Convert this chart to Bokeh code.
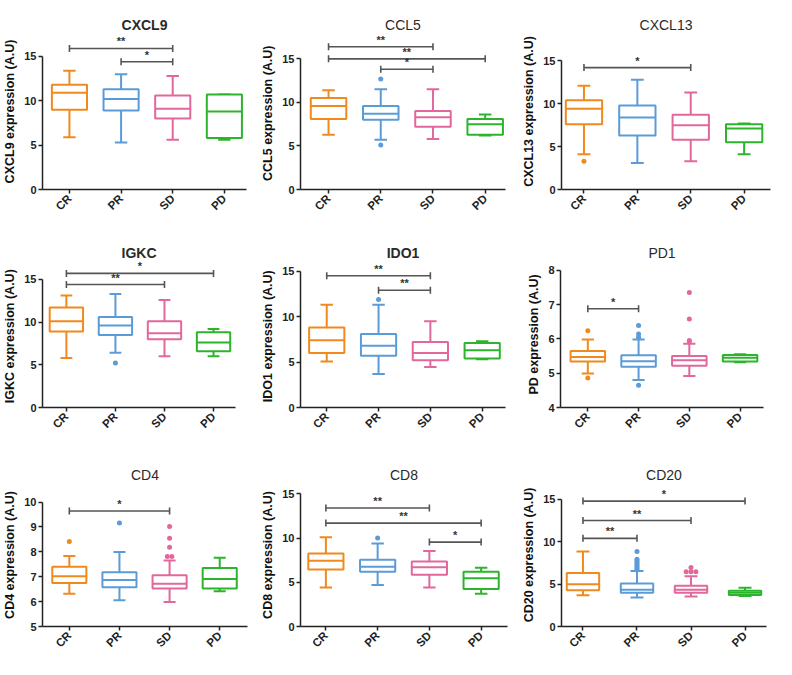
import math
from bokeh.plotting import figure
from bokeh.layouts import column, row
from bokeh.models import FixedTicker, Range1d, ColumnDataSource
from bokeh.core.properties import value
from bokeh.embed import file_html
from bokeh.resources import INLINE

GROUPS = ["CR", "PR", "SD", "PD"]
COLORS = ["#F08A1E", "#5B9BD8", "#E2679C", "#2DB42D"]

# ---- data: whisker low, Q1, median, Q3, whisker high per group ----
cxcl9_low = [5.9, 5.3, 5.6, 5.6]
cxcl9_q1 = [9.0, 8.9, 8.0, 5.8]
cxcl9_med = [10.9, 10.2, 9.1, 8.8]
cxcl9_q3 = [11.8, 11.3, 10.6, 10.7]
cxcl9_high = [13.4, 13.0, 12.8, 10.7]
cxcl9_out = []
cxcl9_sig = [("CR", "SD", 15.9, "**"), ("PR", "SD", 14.4, "*")]

ccl5_low = [6.3, 5.7, 5.8, 6.2]
ccl5_q1 = [8.1, 8.0, 7.2, 6.3]
ccl5_med = [9.6, 8.7, 8.3, 7.5]
ccl5_q3 = [10.5, 9.6, 9.0, 8.1]
ccl5_high = [11.4, 11.5, 11.5, 8.6]
ccl5_out = [("PR", 12.7), ("PR", 5.1)]
ccl5_sig = [("CR", "SD", 16.4, "**"), ("CR", "PD", 15.0, "**"), ("PR", "SD", 13.8, "*")]

cxcl13_low = [4.1, 3.1, 3.3, 4.1]
cxcl13_q1 = [7.6, 6.3, 5.8, 5.5]
cxcl13_med = [9.4, 8.4, 7.5, 7.1]
cxcl13_q3 = [10.4, 9.8, 8.7, 7.6]
cxcl13_high = [12.1, 12.8, 11.3, 7.7]
cxcl13_out = [("CR", 3.3)]
cxcl13_sig = [("CR", "SD", 14.2, "*")]

igkc_low = [5.8, 6.4, 6.0, 6.0]
igkc_q1 = [8.9, 8.5, 8.0, 6.6]
igkc_med = [10.1, 9.6, 8.7, 7.6]
igkc_q3 = [11.7, 10.6, 10.1, 8.8]
igkc_high = [13.1, 13.3, 12.6, 9.2]
igkc_out = [("PR", 5.2)]
igkc_sig = [("CR", "PD", 15.7, "*"), ("CR", "SD", 14.4, "**")]

ido1_low = [5.05, 3.7, 4.45, 5.3]
ido1_q1 = [6.0, 5.7, 5.2, 5.4]
ido1_med = [7.4, 6.8, 6.0, 6.3]
ido1_q3 = [8.8, 8.1, 7.2, 7.1]
ido1_high = [11.3, 11.3, 9.5, 7.3]
ido1_out = [("PR", 11.9)]
ido1_sig = [("CR", "SD", 14.5, "**"), ("PR", "SD", 12.9, "**")]

pd1_low = [4.99, 4.80, 4.92, 5.32]
pd1_q1 = [5.34, 5.19, 5.22, 5.34]
pd1_med = [5.47, 5.35, 5.38, 5.45]
pd1_q3 = [5.65, 5.52, 5.50, 5.53]
pd1_high = [5.98, 5.98, 5.86, 5.55]
pd1_out = [("CR", 6.24), ("CR", 4.86), ("PR", 6.39), ("PR", 6.14), ("PR", 6.05), ("PR", 4.65),
           ("SD", 7.35), ("SD", 6.58), ("SD", 5.95), ("SD", 5.93)]
pd1_sig = [("CR", "PR", 6.88, "*")]

cd4_low = [6.32, 6.05, 5.98, 6.42]
cd4_q1 = [6.75, 6.58, 6.53, 6.53]
cd4_med = [7.02, 6.87, 6.72, 6.91]
cd4_q3 = [7.40, 7.18, 7.06, 7.35]
cd4_high = [7.83, 7.99, 7.65, 7.76]
cd4_out = [("CR", 8.41), ("PR", 9.16), ("SD", 9.02), ("SD", 8.55), ("SD", 8.18), ("SD", 7.81), ("SD", 7.81)]
cd4_sig = [("CR", "SD", 9.64, "*")]

cd8_low = [4.4, 4.7, 4.4, 3.7]
cd8_q1 = [6.45, 6.2, 5.85, 4.25]
cd8_med = [7.45, 6.75, 6.7, 5.45]
cd8_q3 = [8.25, 7.55, 7.35, 6.2]
cd8_high = [10.1, 9.4, 8.55, 6.65]
cd8_out = [("PR", 10.0)]
cd8_sig = [("CR", "SD", 13.4, "**"), ("CR", "PD", 11.7, "**"), ("SD", "PD", 9.55, "*")]

cd20_low = [3.68, 3.42, 3.53, 3.6]
cd20_q1 = [4.28, 3.97, 3.97, 3.72]
cd20_med = [5.0, 4.35, 4.34, 3.97]
cd20_q3 = [6.3, 5.07, 4.8, 4.23]
cd20_high = [8.85, 6.55, 5.92, 4.56]
cd20_out = [("PR", 8.85), ("PR", 7.95), ("PR", 7.75), ("PR", 7.55), ("PR", 7.35), ("PR", 7.15),
            ("PR", 6.95), ("PR", 6.75), ("SD", 6.95), ("SD", 6.45), ("SD", 6.45), ("SD", 6.45)]
cd20_sig = [("CR", "PD", 14.8, "*"), ("CR", "SD", 12.5, "**"), ("CR", "PR", 10.4, "**")]

TICKS_15 = [0, 5, 10, 15]
TICKS_PD1 = [4, 5, 6, 7, 8]
TICKS_CD4 = [5, 6, 7, 8, 9, 10]

# ---- layout (reference pixel geometry within each 264x225 cell) ----
W, H = 258, 219
SX, SY = W / 264.0, H / 225.0
FONT = "Liberation Sans"


def panel(title, ylabel, yticks, low, q1, med, q3, high, outl, sig, L, c1, c4, R, T, B, ty, bold, bw):
    ymin, ymax = yticks[0], yticks[-1]
    top_ref = ty + 11
    pxu = (B - T) / float(ymax - ymin)
    y_end = ymax + (T - top_ref) / pxu
    s = (c4 - c1) / 3.0
    x_start = 1 - (c1 - L) / s
    x_end = 4 + (R - c4) / s

    p = figure(width=W, height=H, output_backend="svg", toolbar_location=None,
               x_range=Range1d(x_start, x_end), y_range=Range1d(ymin, y_end),
               min_border_left=int(round(L * SX)), min_border_right=W - int(round(R * SX)),
               min_border_top=int(round(top_ref * SY)),
               min_border_bottom=H - int(round(B * SY)))
    p.outline_line_color = None
    p.xgrid.visible = False
    p.ygrid.visible = False
    p.background_fill_color = "white"
    p.border_fill_color = "white"

    p.title.text = title
    p.title.align = "center"
    p.title.text_font = FONT
    p.title.text_font_size = "14px"
    p.title.text_font_style = "bold" if bold else "normal"
    p.title.text_color = "#2a2a2a"
    p.title.standoff = 2

    ya = p.yaxis[0]
    ya.ticker = FixedTicker(ticks=yticks)
    ya.bounds = (ymin, ymax)
    ya.axis_label = ylabel
    ya.axis_label_text_font = FONT
    ya.axis_label_text_font_size = "12.5px"
    ya.axis_label_text_font_style = "bold"
    ya.axis_label_text_color = "#111111"
    ya.axis_label_standoff = 4
    ya.major_label_text_font = FONT
    ya.major_label_text_font_size = "11px"
    ya.major_label_text_font_style = "bold"
    ya.major_label_text_color = "#222222"
    ya.major_label_standoff = 2
    ya.minor_tick_line_color = None
    ya.major_tick_in = 0
    ya.major_tick_out = 4
    ya.axis_line_width = 1.5
    ya.major_tick_line_width = 1.5
    ya.axis_line_color = "#222222"
    ya.major_tick_line_color = "#222222"

    xa = p.xaxis[0]
    xa.axis_label = None
    xa.ticker = FixedTicker(ticks=[1, 2, 3, 4])
    xa.major_label_overrides = {i + 1: g for i, g in enumerate(GROUPS)}
    xa.major_label_orientation = math.pi / 4
    xa.major_label_text_font = FONT
    xa.major_label_text_font_size = "11.5px"
    xa.major_label_text_font_style = "bold"
    xa.major_label_text_color = "#222222"
    xa.major_label_standoff = 3
    xa.minor_tick_line_color = None
    xa.major_tick_in = 0
    xa.major_tick_out = 4
    xa.axis_line_width = 1.5
    xa.major_tick_line_width = 1.5
    xa.axis_line_color = "#222222"
    xa.major_tick_line_color = "#222222"

    xs = [i + 1 for i in range(len(GROUPS))]
    hw = bw / 2.0
    cw = 0.12
    src = ColumnDataSource(dict(
        x=xs, low=low, q1=q1, med=med, q3=q3, high=high, color=COLORS,
        xl=[x - hw for x in xs], xr=[x + hw for x in xs],
        cl=[x - cw for x in xs], cr=[x + cw for x in xs]))
    lw = 2
    p.segment(x0="x", y0="q3", x1="x", y1="high", line_color="color", line_width=lw, source=src)
    p.segment(x0="x", y0="q1", x1="x", y1="low", line_color="color", line_width=lw, source=src)
    p.segment(x0="cl", y0="high", x1="cr", y1="high", line_color="color", line_width=lw, source=src)
    p.segment(x0="cl", y0="low", x1="cr", y1="low", line_color="color", line_width=lw, source=src)
    p.vbar(x="x", width=bw, bottom="q1", top="q3", fill_color="white", line_color="color",
           line_width=lw, source=src)
    p.segment(x0="xl", y0="med", x1="xr", y1="med", line_color="color", line_width=lw, source=src)

    if outl:
        ox = []
        seen = {}
        for g, v in outl:
            k = (g, v)
            n = seen.get(k, 0)
            seen[k] = n + 1
            cnt = outl.count(k)
            ox.append(GROUPS.index(g) + 1 + (n - (cnt - 1) / 2.0) * 0.09)
        oc = [COLORS[GROUPS.index(g)] for g, v in outl]
        p.scatter(x=ox, y=[v for g, v in outl], size=5, marker="circle",
                  fill_color=oc, line_color=None)

    if sig:
        sx0 = [GROUPS.index(a) + 1 for a, b, y, t in sig]
        sx1 = [GROUPS.index(b) + 1 for a, b, y, t in sig]
        sy = [y for a, b, y, t in sig]
        st = [t for a, b, y, t in sig]
        p.segment(x0=sx0, y0=sy, x1=sx1, y1=sy, line_color="#555555", line_width=1.6)
        p.scatter(x=sx0 + sx1, y=sy + sy, marker="dash", angle=math.pi / 2, size=7,
                  line_color="#555555", line_width=1.6)
        p.text(x=[(a + b) / 2.0 for a, b in zip(sx0, sx1)], y=sy, text=st,
               text_align="center", text_baseline="bottom", y_offset=-1,
               text_font=value(FONT), text_font_size="11px", text_font_style="bold",
               text_color="#333333")
    return p


p1 = panel("CXCL9", "CXCL9 expression (A.U)", TICKS_15, cxcl9_low, cxcl9_q1, cxcl9_med, cxcl9_q3,
           cxcl9_high, cxcl9_out, cxcl9_sig, 40, 68, 229, 252, 51, 196, 15, True, 0.68)
p2 = panel("CCL5", "CCL5 expression  (A.U)", TICKS_15, ccl5_low, ccl5_q1, ccl5_med, ccl5_q3,
           ccl5_high, ccl5_out, ccl5_sig, 41, 70, 232, 253, 61, 200, 23, False, 0.68)
p3 = panel("CXCL13", "CXCL13 expression (A.U)", TICKS_15, cxcl13_low, cxcl13_q1, cxcl13_med, cxcl13_q3,
           cxcl13_high, cxcl13_out, cxcl13_sig, 46, 69, 233, 260, 63, 200, 23, False, 0.68)
p4 = panel("IGKC", "IGKC expression  (A.U)", TICKS_15, igkc_low, igkc_q1, igkc_med, igkc_q3,
           igkc_high, igkc_out, igkc_sig, 38, 63, 217, 240, 57, 193, 27, True, 0.68)
p5 = panel("IDO1", "IDO1 expression  (A.U)", TICKS_15, ido1_low, ido1_q1, ido1_med, ido1_q3,
           ido1_high, ido1_out, ido1_sig, 42, 69, 229, 253, 53, 193, 32, True, 0.68)
p6 = panel("PD1", "PD expression (A.U)", TICKS_PD1, pd1_low, pd1_q1, pd1_med, pd1_q3,
           pd1_high, pd1_out, pd1_sig, 45, 73, 229, 253, 52, 193, 32, False, 0.68)
p7 = panel("CD4", "CD4 expression (A.U)", TICKS_CD4, cd4_low, cd4_q1, cd4_med, cd4_q3,
           cd4_high, cd4_out, cd4_sig, 39, 67, 224, 253, 52, 193, 20, False, 0.68)
p8 = panel("CD8", "CD8 expression (A.U)", TICKS_15, cd8_low, cd8_q1, cd8_med, cd8_q3,
           cd8_high, cd8_out, cd8_sig, 43, 69, 228, 255, 57, 197, 35, False, 0.68)
p9 = panel("CD20", "CD20 expression (A.U)", TICKS_15, cd20_low, cd20_q1, cd20_med, cd20_q3,
           cd20_high, cd20_out, cd20_sig, 46, 68, 234, 256, 63, 199, 35, False, 0.6)

layout = column(row(p1, p2, p3), row(p4, p5, p6), row(p7, p8, p9))
open("out.html", "w").write(file_html(layout, INLINE))
